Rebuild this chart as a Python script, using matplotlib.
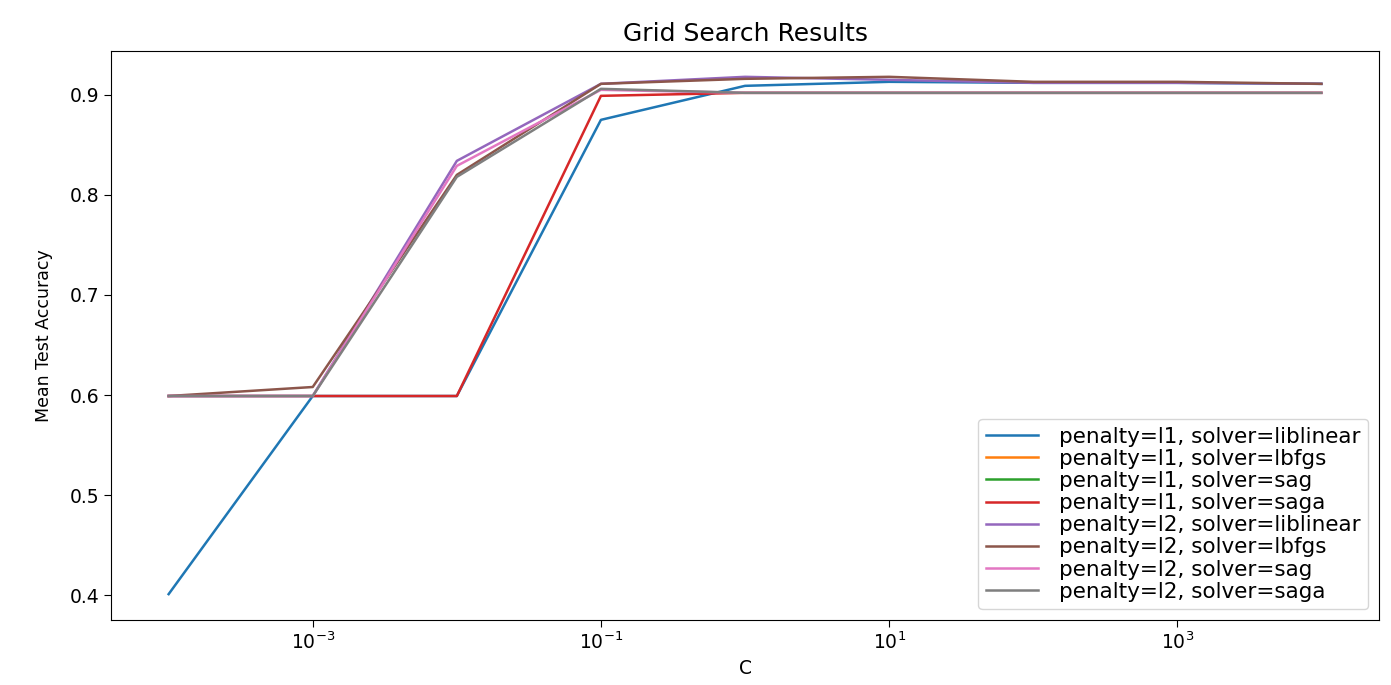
import numpy as np
import matplotlib.pyplot as plt
from matplotlib.ticker import NullLocator

C_values = [1e-4, 1e-3, 1e-2, 1e-1, 1, 10, 100, 1000, 10000]
nan = np.nan

l1_liblinear = [0.401, 0.599, 0.599, 0.875, 0.909, 0.913, 0.912, 0.912, 0.911]
l1_lbfgs = [nan] * 9
l1_sag = [nan] * 9
l1_saga = [0.599, 0.599, 0.599, 0.899, 0.902, 0.902, 0.902, 0.902, 0.902]
l2_liblinear = [0.599, 0.599, 0.834, 0.911, 0.918, 0.915, 0.912, 0.912, 0.911]
l2_lbfgs = [0.599, 0.608, 0.820, 0.911, 0.916, 0.918, 0.913, 0.913, 0.911]
l2_sag = [0.599, 0.599, 0.829, 0.905, 0.902, 0.902, 0.902, 0.902, 0.902]
l2_saga = [0.599, 0.599, 0.818, 0.906, 0.902, 0.902, 0.902, 0.902, 0.902]

labels = ["penalty=l1, solver=liblinear", "penalty=l1, solver=lbfgs",
          "penalty=l1, solver=sag", "penalty=l1, solver=saga",
          "penalty=l2, solver=liblinear", "penalty=l2, solver=lbfgs",
          "penalty=l2, solver=sag", "penalty=l2, solver=saga"]
series = [l1_liblinear, l1_lbfgs, l1_sag, l1_saga,
          l2_liblinear, l2_lbfgs, l2_sag, l2_saga]

fig = plt.figure(figsize=(13.91, 6.85), dpi=100)
ax = fig.add_axes([0.0798, 0.0949, 0.9116, 0.8307])

for s, lab in zip(series, labels):
    ax.plot(C_values, s, label=lab, linewidth=1.8)

ax.set_xscale("log")
ax.set_xticks([1e-3, 1e-1, 1e1, 1e3])
ax.xaxis.set_minor_locator(NullLocator())
ax.tick_params(labelsize=13.5, length=5)

ax.set_xlabel("C", fontsize=13.5, labelpad=4)
ax.set_ylabel("Mean Test Accuracy", fontsize=12.5, labelpad=12)
ax.set_title("Grid Search Results", fontsize=18, pad=7)

ax.legend(loc="lower right", fontsize=15.5, labelspacing=0.1, borderpad=0.35,
          handlelength=2.4, handletextpad=1.0, borderaxespad=0.5)

fig.savefig("out.png", dpi=100)
